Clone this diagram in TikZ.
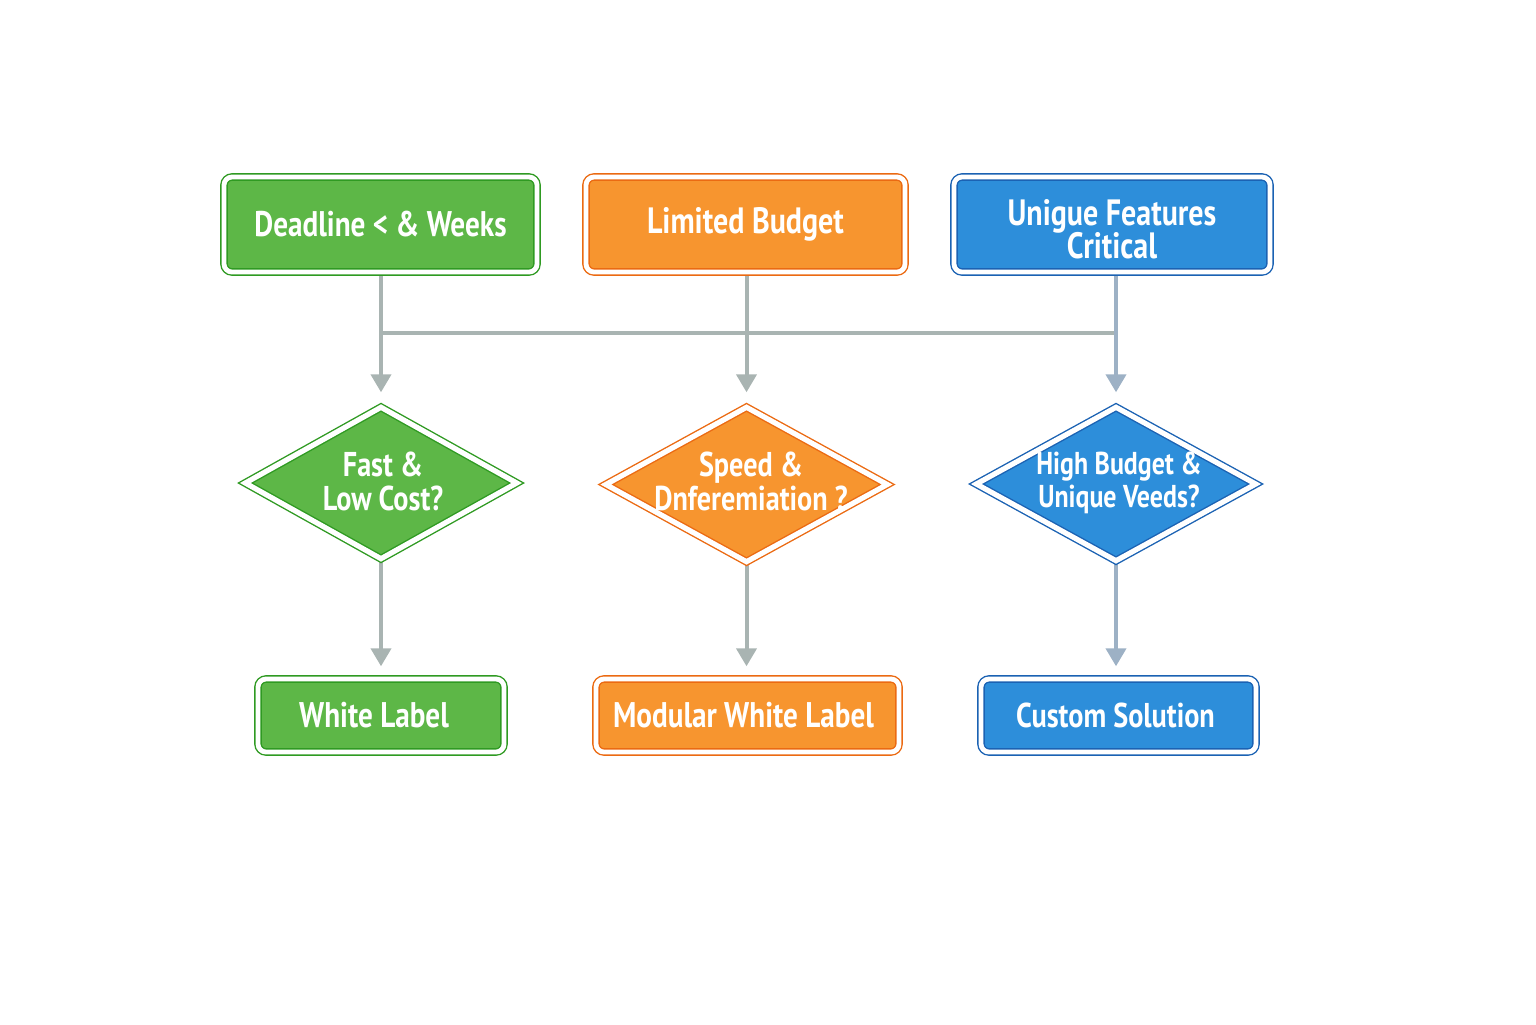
\documentclass[tikz,border=0pt]{standalone}
\usepackage{fontspec}
\setmainfont{PT Sans}[FakeStretch=0.82]
\usetikzlibrary{shapes.geometric,arrows.meta}
\definecolor{gfill}{HTML}{5DB747}
\definecolor{gline}{HTML}{2F9A22}
\definecolor{ofill}{HTML}{F7952F}
\definecolor{oline}{HTML}{EB6A12}
\definecolor{bfill}{HTML}{2D8EDA}
\definecolor{bline}{HTML}{1B62B3}
\definecolor{conncol}{HTML}{A9B4B2}
\definecolor{connblue}{HTML}{9DB1C5}
\pgfdeclarelayer{bg}
\pgfsetlayers{bg,main}
\tikzset{
  box/.style={rectangle, rounded corners=4pt, line width=0.7pt, double=white, double distance=2.4pt,
    inner sep=0pt, text=white, align=center, font=\bfseries\fontsize{18.3}{16.5}\selectfont},
  gbox/.style={box, fill=gfill, draw=gline},
  obox/.style={box, fill=ofill, draw=oline},
  bbox/.style={box, fill=bfill, draw=bline},
  dia/.style={diamond, line width=0.7pt, double=white, double distance=2.6pt, inner sep=0pt},
  gdia/.style={dia, fill=gfill, draw=gline},
  odia/.style={dia, fill=ofill, draw=oline},
  bdia/.style={dia, fill=bfill, draw=bline},
  dlabel/.style={text=white, align=center, inner sep=0pt, font=\bfseries\fontsize{17.2}{17}\selectfont},
  bottomfont/.style={font=\bfseries\fontsize{17.8}{16.5}\selectfont},
  link/.style={draw=conncol, line width=2pt},
  linkarrow/.style={link, -{Triangle[width=10pt,length=9pt]}},
}
\begin{document}
\begin{tikzpicture}[x=0.5pt,y=-0.5pt]
\useasboundingbox (0,0) rectangle (1536,1024);
% top boxes
\node[gbox, minimum width=156.5pt, minimum height=47.5pt, font=\bfseries\fontsize{17.8}{16.5}\selectfont] (t1) at (380.5,224.5) {Deadline < \& Weeks};
\node[obox, minimum width=159.5pt, minimum height=47.5pt] (t2) at (745.5,224.5) {Limited Budget};
\node[bbox, minimum width=158pt, minimum height=47.5pt] (t3) at (1112,224.5)
  {\raisebox{-9.1pt}[0pt][0pt]{\begin{tabular}{@{}c@{}}Unigue Features\\[-1.5pt]Critical\end{tabular}}};
% diamonds
\node[gdia, minimum width=136pt, minimum height=76pt] (d1) at (381,483) {};
\node[odia, minimum width=141pt, minimum height=77.5pt] (d2) at (746.5,484.5) {};
\node[bdia, minimum width=140pt, minimum height=77pt] (d3) at (1116,484) {};
\node[dlabel] (l1) at (383,481) {Fast \&\\Low Cost?};
\node[dlabel] (l2) at (751,481) {Speed \&\\Dnferemiation ?};
\node[dlabel, font=\bfseries\fontsize{15.8}{16.5}\selectfont] (l3) at (1119,483) {High Budget \&\\Unique Veeds?};
% bottom boxes
\node[gbox, bottomfont, minimum width=123pt, minimum height=36.5pt] (b1) at (381,715.5) {\mbox{White Label\kern7pt}};
\node[obox, bottomfont, minimum width=151.5pt, minimum height=36.5pt] (b2) at (747.5,715.5) {\mbox{Modular White Label\kern4pt}};
\node[bbox, minimum width=137.5pt, minimum height=36.5pt, font=\bfseries\fontsize{17.2}{16.5}\selectfont] (b3) at (1118.5,715.5) {\mbox{Custom Solution\kern3pt}};
% connectors
\coordinate (hl) at (381,333);
\coordinate (hr) at (1115,333);
\begin{pgfonlayer}{bg}
\draw[link] (hl) -- (hr);
\draw[linkarrow, shorten >=7pt] (d1.north |- t1.south) -- (d1.north);
\draw[linkarrow, shorten >=7pt] (d2.north |- t2.south) -- (d2.north);
\draw[linkarrow, draw=connblue, shorten >=7pt] (d3.north |- t3.south) -- (d3.north);
\draw[linkarrow, shorten >=6pt] (d1.south) -- (d1.south |- b1.north);
\draw[linkarrow, shorten >=6pt] (d2.south) -- (d2.south |- b2.north);
\draw[linkarrow, draw=connblue, shorten >=6pt] (d3.south) -- (d3.south |- b3.north);
\end{pgfonlayer}
\end{tikzpicture}
\end{document}
